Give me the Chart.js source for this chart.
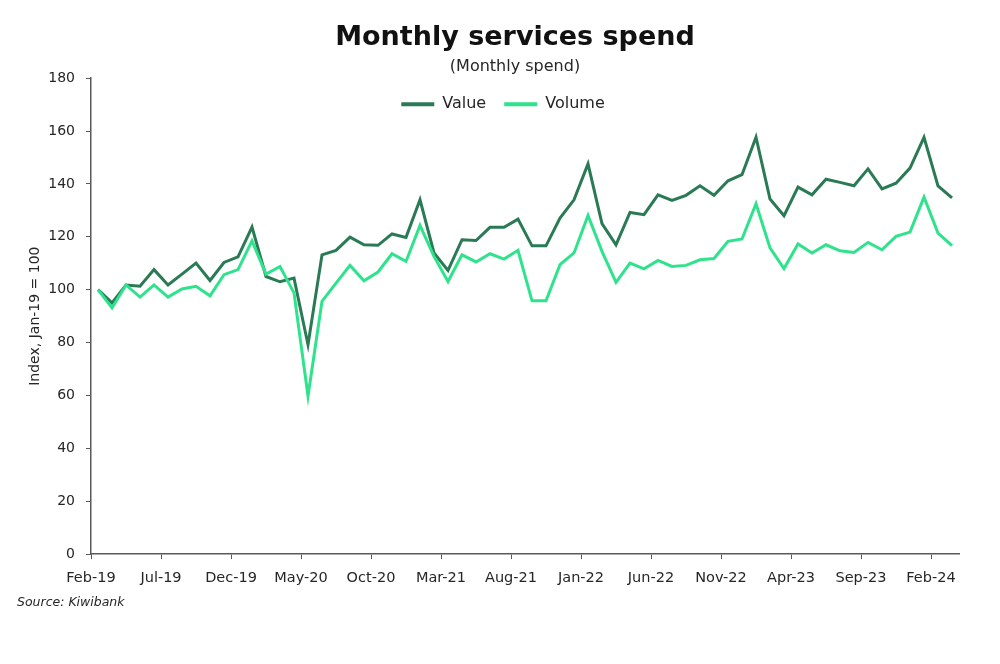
<!DOCTYPE html>
<html>
<head>
<meta charset="utf-8">
<script src="https://cdn.jsdelivr.net/npm/chart.js@4"></script>
<style>
  html, body { margin: 0; padding: 0; background: #fff; }
  #wrap { width: 1000px; height: 664px; }
</style>
</head>
<body>
<div id="wrap"><canvas id="chart" width="1000" height="664"></canvas></div>
<script>
// monthly index, Jan-19 = 100
const months = [
  'Jan-19','Feb-19','Mar-19','Apr-19','May-19','Jun-19','Jul-19','Aug-19','Sep-19','Oct-19','Nov-19','Dec-19',
  'Jan-20','Feb-20','Mar-20','Apr-20','May-20','Jun-20','Jul-20','Aug-20','Sep-20','Oct-20','Nov-20','Dec-20',
  'Jan-21','Feb-21','Mar-21','Apr-21','May-21','Jun-21','Jul-21','Aug-21','Sep-21','Oct-21','Nov-21','Dec-21',
  'Jan-22','Feb-22','Mar-22','Apr-22','May-22','Jun-22','Jul-22','Aug-22','Sep-22','Oct-22','Nov-22','Dec-22',
  'Jan-23','Feb-23','Mar-23','Apr-23','May-23','Jun-23','Jul-23','Aug-23','Sep-23','Oct-23','Nov-23','Dec-23',
  'Jan-24','Feb-24'
];

const valueSeries = [
  100, 95.0, 101.8, 101.3, 107.6, 101.8, 105.9, 110.1, 103.5, 110.3, 112.4, 123.7,
  105.0, 103.0, 104.4, 79.2, 113.2, 114.9, 119.9, 117.0, 116.8, 121.1, 119.8, 134.0,
  113.9, 107.3, 118.9, 118.6, 123.6, 123.6, 126.7, 116.6, 116.6, 127.1, 134.0, 147.6,
  125.0, 117.0, 129.2, 128.4, 135.9, 133.8, 135.7, 139.3, 135.7, 141.2, 143.5, 157.7,
  134.3, 128.0, 138.8, 135.9, 141.8, 140.6, 139.3, 145.7, 138.1, 140.3, 146.0, 157.6,
  139.3, 134.7
];

const volumeSeries = [
  100, 93.1, 101.8, 97.2, 101.8, 97.2, 100.3, 101.3, 97.7, 105.7, 107.6, 118.5,
  105.9, 108.8, 98.8, 59.8, 95.6, 102.5, 109.2, 103.4, 106.7, 113.6, 110.7, 124.3,
  112.6, 103.1, 113.2, 110.5, 113.6, 111.6, 114.9, 95.8, 95.8, 109.5, 113.9, 128.1,
  114.5, 102.8, 110.1, 107.9, 111.1, 108.8, 109.2, 111.3, 111.8, 118.3, 119.2, 132.5,
  115.8, 108.0, 117.3, 113.9, 117.0, 114.7, 114.1, 117.9, 115.1, 120.2, 121.8, 135.0,
  121.4, 116.7
];

const tickLabels = ['Feb-19','Jul-19','Dec-19','May-20','Oct-20','Mar-21','Aug-21',
  'Jan-22','Jun-22','Nov-22','Apr-23','Sep-23','Feb-24'];
const yTicks = [0, 20, 40, 60, 80, 100, 120, 140, 160, 180];

const DARK = '#2a7a55';
const LIGHT = '#2ee38c';
const AXIS = '#595959';
const FONT = '"DejaVu Sans", Verdana, sans-serif';

// the source axis places each label a month and a half before its category
const tickPos = (label) => months.indexOf(label) - 1.5;

// legend sits inside the plot in one row; headings nudged a little left of the plot centre
const boxTweaks = {
  id: 'boxTweaks',
  afterInit(chart) {
    if (chart.legend) chart.legend.isHorizontal = () => true;
  },
  afterLayout(chart) {
    const area = chart.chartArea;
    if (chart.legend) {
      chart.legend.left = area.left - 22;
      chart.legend.right = area.right - 22;
    }
    chart.boxes
      .filter((b) => b.options && typeof b.options.text === 'string')
      .forEach((b) => { b.left -= 10; b.right -= 10; });
  }
};

const sourceNote = {
  id: 'sourceNote',
  afterDraw(chart) {
    const ctx = chart.ctx;
    ctx.save();
    ctx.font = 'italic 12.5px ' + FONT;
    ctx.fillStyle = '#262626';
    ctx.textBaseline = 'middle';
    ctx.fillText('Source: Kiwibank', 17, 603);
    ctx.restore();
  }
};

function toPoints(values) {
  return values.map((v, i) => ({ x: i, y: v }));
}

new Chart(document.getElementById('chart'), {
  type: 'line',
  data: {
    datasets: [
      { label: 'Value', data: toPoints(valueSeries), borderColor: DARK, backgroundColor: DARK, order: 2 },
      { label: 'Volume', data: toPoints(volumeSeries), borderColor: LIGHT, backgroundColor: LIGHT, order: 1 }
    ]
  },
  plugins: [boxTweaks, sourceNote],
  options: {
    responsive: false,
    animation: false,
    layout: { padding: { left: 0, right: 41, bottom: 66.5, top: 0 } },
    elements: {
      line: { borderWidth: 3, tension: 0 },
      point: { radius: 0, hitRadius: 6 }
    },
    scales: {
      x: {
        type: 'linear',
        min: -0.5,
        max: months.length - 0.5,
        border: { color: AXIS, width: 1.5 },
        grid: { drawOnChartArea: false, drawTicks: true, tickLength: 5, color: AXIS },
        afterBuildTicks: (scale) => {
          scale.ticks = tickLabels.map((l) => ({ value: tickPos(l) }));
        },
        ticks: {
          autoSkip: false,
          maxRotation: 0,
          padding: 10.5,
          color: '#262626',
          font: { family: FONT, size: 14.5 },
          callback: (value) => months[value + 1.5]
        }
      },
      y: {
        min: 0,
        max: 180,
        border: { color: AXIS, width: 1.5 },
        grid: { drawOnChartArea: false, drawTicks: true, tickLength: 5, color: AXIS },
        afterBuildTicks: (scale) => {
          scale.ticks = yTicks.map((v) => ({ value: v }));
        },
        afterFit: (scale) => { scale.width = 91; },
        ticks: {
          padding: 11,
          color: '#262626',
          font: { family: FONT, size: 14 }
        },
        title: {
          display: true,
          text: 'Index, Jan-19 = 100',
          color: '#262626',
          font: { family: FONT, size: 14 },
          padding: { top: 27, bottom: 0 }
        }
      }
    },
    plugins: {
      title: {
        display: true,
        fullSize: false,
        text: 'Monthly services spend',
        color: '#111',
        font: { family: FONT, size: 27, weight: 'bold' },
        padding: { top: 22, bottom: 3 }
      },
      subtitle: {
        display: true,
        fullSize: false,
        text: '(Monthly spend)',
        color: '#262626',
        font: { family: FONT, size: 16 },
        padding: { top: 0, bottom: 1.6 }
      },
      legend: {
        position: 'chartArea',
        align: 'center',
        labels: {
          boxWidth: 33,
          boxHeight: 4,
          padding: 18,
          color: '#262626',
          font: { family: FONT, size: 16 },
          generateLabels: (chart) => {
            const items = Chart.defaults.plugins.legend.labels.generateLabels(chart);
            items.forEach((it) => { it.lineWidth = 0; });
            return items.sort((a, b) => a.datasetIndex - b.datasetIndex);
          }
        }
      },
      tooltip: { enabled: true }
    }
  }
});
</script>
</body>
</html>
